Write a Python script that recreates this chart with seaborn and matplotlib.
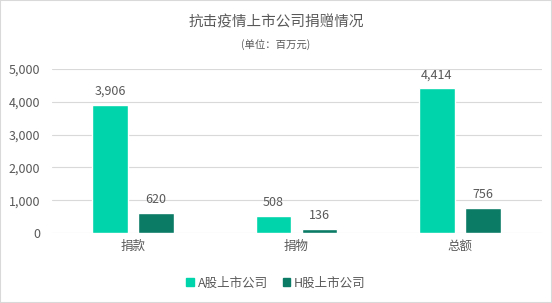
import matplotlib
matplotlib.use("Agg")
import matplotlib.pyplot as plt
import seaborn as sns
import pandas as pd
from matplotlib.ticker import FuncFormatter
from matplotlib.patches import Rectangle

categories = ["捐款", "捐物", "总额"]
series_names = ["A股上市公司", "H股上市公司"]
a_values = [3906, 508, 4414]
h_values = [620, 136, 756]
y_ticks = [0, 1000, 2000, 3000, 4000, 5000]

df = pd.DataFrame({
    "类别": categories * 2,
    "系列": [series_names[0]] * 3 + [series_names[1]] * 3,
    "值": a_values + h_values,
})

sns.set_theme(style="white")
plt.rcParams["font.family"] = ["Noto Sans CJK SC", "DejaVu Sans"]

text_color = "#595959"
colors = ["#00D4AA", "#0B7B66"]

fig = plt.figure(figsize=(5.52, 3.03), dpi=100)
ax = fig.add_axes([51.5 / 552, 1 - 233 / 303, 490 / 552, 164 / 303])

sns.barplot(data=df, x="类别", y="值", hue="系列", palette=colors,
            width=0.563, gap=0.22, ax=ax, legend=False, errorbar=None,
            saturation=1)

ax.set_ylim(0, 5000)
ax.set_xlim(-0.5, 2.5)
ax.set_yticks(y_ticks)
ax.yaxis.set_major_formatter(FuncFormatter(lambda v, p: f"{int(v):,}"))
ax.grid(axis="y", color="#D9D9D9", linewidth=0.8)
ax.set_axisbelow(True)
for s in ax.spines.values():
    s.set_visible(False)
ax.set_xlabel("")
ax.set_ylabel("")
ax.tick_params(axis="both", length=0, colors=text_color, labelsize=9)
ax.tick_params(axis="y", pad=8)
ax.tick_params(axis="x", pad=5)

for cont in ax.containers:
    ax.bar_label(cont, labels=[f"{int(v):,}" for v in cont.datavalues],
                 padding=5, fontsize=9, color=text_color)

fig.text(0.5, 1 - 22 / 303, "抗击疫情上市公司捐赠情况", ha="center", va="center",
         fontsize=10.5, color=text_color)
fig.text(0.5, 1 - 45 / 303, "(单位：百万元)", ha="center", va="center",
         fontsize=7.5, color=text_color)

# legend
handles = [Rectangle((0, 0), 1, 1, color=c) for c in colors]
fig.legend(handles, series_names, loc="center", bbox_to_anchor=(0.5, 1 - 283 / 303),
           ncol=2, frameon=False, fontsize=9, labelcolor=text_color,
           handlelength=0.6, handleheight=0.6, handletextpad=0.3, columnspacing=1.2)

# figure border
fig.patches.append(Rectangle((0, 0), 1, 1, transform=fig.transFigure, fill=False,
                             edgecolor="#D9D9D9", linewidth=1.5))

fig.savefig("out.png", dpi=100)
